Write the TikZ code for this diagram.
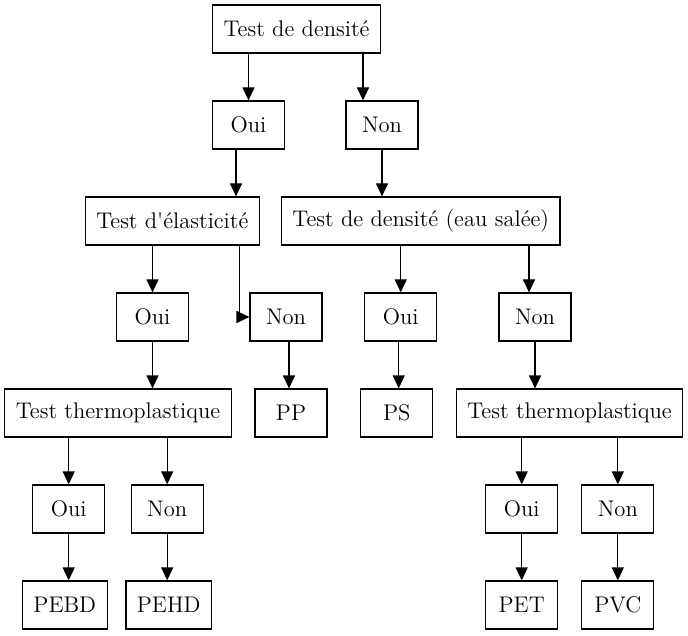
\documentclass[tikz,border=0pt]{standalone}
\usepackage{tikz}
\usetikzlibrary{arrows.meta,positioning}

\begin{document}
\begin{tikzpicture}[x=0.5pt,y=-0.5pt,->,>={Triangle[length=6.5pt,width=6pt]},
  line width=0.6pt, font=\fontsize{11.3}{13}\selectfont,
  box/.style={rectangle,draw,minimum width=36pt,minimum height=24pt,inner xsep=5.5pt}]
    \useasboundingbox (0,0) rectangle (688,635);
    \node[box] (dens) at (296.5,29) {Test de densité};
    \node[box] (oui1) at (248.5,125) {Oui};
    \node[box] (non1) at (382,125) {Non};
    \node[box] (elast) at (172.3,221) {Test d\textquotesingle élasticité};
    \node[box] (eau) at (420.7,221) {Test de densité (eau salée)};
    \node[box] (oui2) at (152.5,317) {Oui};
    \node[box] (non2) at (286,317) {Non};
    \node[box] (oui3) at (400.7,317) {Oui};
    \node[box] (non3) at (535,317) {Non};
    \node[box] (thermo1) at (118,413) {Test thermoplastique};
    \node[box] (pp) at (291,413) {PP};
    \node[box] (ps) at (396.7,413) {PS};
    \node[box] (thermo2) at (569.5,413) {Test thermoplastique};
    \node[box] (oui4) at (68.7,509) {Oui};
    \node[box] (non4) at (167.2,509) {Non};
    \node[box] (oui5) at (521.7,509) {Oui};
    \node[box] (non5) at (617.8,509) {Non};
    \node[box] (pebd) at (64.8,605) {PEBD};
    \node[box] (pehd) at (168.7,605) {PEHD};
    \node[box] (pet) at (521.7,605) {PET};
    \node[box] (pvc) at (617.8,605) {PVC};
    % first test
    \draw (oui1.north |- dens.south) -- (oui1.north);
    \draw ([xshift=-9.5pt]non1.north |- dens.south) -- ([xshift=-9.5pt]non1.north);
    \draw ([xshift=-6.25pt]oui1.south) -- ([xshift=-6.25pt]oui1.south |- elast.north);
    \draw (non1.south) -- (non1.south |- eau.north);
    % elasticity and salt water
    \draw (oui2.north |- elast.south) -- (oui2.north);
    \draw ([xshift=-5pt]non2.west |- elast.south) -- ([xshift=-5pt]non2.west) -- (non2.west);
    \draw (oui3.north |- eau.south) -- (oui3.north);
    \draw ([xshift=-3pt]non3.north |- eau.south) -- ([xshift=-3pt]non3.north);
    \draw (oui2.south) -- (oui2.south |- thermo1.north);
    \draw ([xshift=-1pt]pp.north |- non2.south) -- ([xshift=-1pt]pp.north);
    \draw ([xshift=1pt]ps.north |- oui3.south) -- ([xshift=1pt]ps.north);
    \draw (non3.south) -- (non3.south |- thermo2.north);
    % thermoplastic tests
    \draw (oui4.north |- thermo1.south) -- (oui4.north);
    \draw (non4.north |- thermo1.south) -- (non4.north);
    \draw (oui5.north |- thermo2.south) -- (oui5.north);
    \draw (non5.north |- thermo2.south) -- (non5.north);
    \draw (oui4.south) -- (oui4.south |- pebd.north);
    \draw (non4.south) -- (non4.south |- pehd.north);
    \draw (oui5.south) -- (pet.north);
    \draw (non5.south) -- (pvc.north);
\end{tikzpicture}
\end{document}
